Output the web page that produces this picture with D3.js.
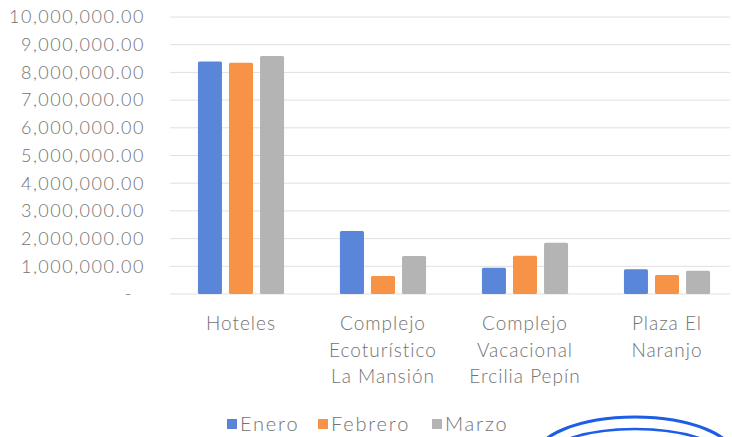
<!DOCTYPE html>
<html>
<head>
<meta charset="utf-8">
<script src="https://cdn.jsdelivr.net/npm/d3@7"></script>
<style>
  body { margin: 0; background: #fff; }
  svg text { font-family: "Lato", "DejaVu Sans", sans-serif; fill: #727272; font-weight: 300; }
</style>
</head>
<body>
<svg id="chart" width="732" height="437"></svg>
<script>
// chart data
const categories = [
  ["Hoteles"],
  ["Complejo", "Ecoturístico", "La Mansión"],
  ["Complejo", "Vacacional", "Ercilia Pepín"],
  ["Plaza El", "Naranjo"]
];
const seriesNames = ["Enero", "Febrero", "Marzo"];
const enero = [8390000, 2270000, 950000, 890000];
const febrero = [8350000, 650000, 1380000, 690000];
const marzo = [8590000, 1370000, 1850000, 840000];
const yTicks = [0, 1e6, 2e6, 3e6, 4e6, 5e6, 6e6, 7e6, 8e6, 9e6, 1e7];
const colors = ["#5a86d9", "#f79346", "#b4b4b4"];

const series = [enero, febrero, marzo];
const svg = d3.select("#chart");

let y = d3.scaleLinear().domain([0, 1e7]).range([294, 17]);
let x = d3.scaleBand().domain(d3.range(categories.length)).range([170, 738]);
let xs = d3.scaleBand().domain(d3.range(seriesNames.length)).range([0, x.bandwidth()]).paddingInner(0.226).paddingOuter(0.9);

// gridlines
svg.append("g").selectAll("line").data(yTicks).join("line")
  .attr("x1", 170).attr("x2", 730)
  .attr("y1", d => y(d)).attr("y2", d => y(d))
  .attr("stroke", "#e0e0e0").attr("stroke-width", 1);

// y labels
let fmt = d3.format(",.2f");
svg.append("g").selectAll("text").data(yTicks).join("text")
  .attr("x", d => d === 0 ? 133 : 145)
  .attr("y", d => y(d))
  .attr("dy", "0.35em")
  .attr("text-anchor", "end")
  .style("font-size", "18px")
  .style("letter-spacing", "1.5px")
  .text(d => d === 0 ? "-" : fmt(d));

// bars
series.forEach((vals, si) => {
  svg.append("g").selectAll("rect").data(vals).join("rect")
    .attr("x", (d, i) => x(i) + xs(si))
    .attr("y", d => y(d))
    .attr("width", xs.bandwidth())
    .attr("height", d => y(0) - y(d))
    .attr("rx", 1.5)
    .attr("fill", colors[si]);
});

// category labels
categories.forEach((lines, i) => {
  let t = svg.append("text")
    .attr("text-anchor", "middle")
    .style("font-size", "19px")
    .style("letter-spacing", "1px");
  lines.forEach((l, j) => {
    t.append("tspan")
      .attr("x", x(i) + x.bandwidth() / 2)
      .attr("y", 330 + j * 26.5)
      .text(l);
  });
});

// legend
const legendX = [227, 318, 432];
seriesNames.forEach((n, i) => {
  svg.append("rect")
    .attr("x", legendX[i]).attr("y", 419)
    .attr("width", 10).attr("height", 10)
    .attr("fill", colors[i]);
  svg.append("text")
    .attr("x", legendX[i] + 13).attr("y", 431)
    .style("font-size", "20px")
    .style("letter-spacing", "1.8px")
    .text(n);
});

// stamp edge at bottom right
svg.append("ellipse").attr("cx", 635).attr("cy", 458).attr("rx", 100).attr("ry", 41)
  .attr("fill", "none").attr("stroke", "#1d5ee6").attr("stroke-width", 3);
svg.append("ellipse").attr("cx", 635).attr("cy", 458).attr("rx", 88).attr("ry", 29)
  .attr("fill", "none").attr("stroke", "#1d5ee6").attr("stroke-width", 2.5);
</script>
</body>
</html>
